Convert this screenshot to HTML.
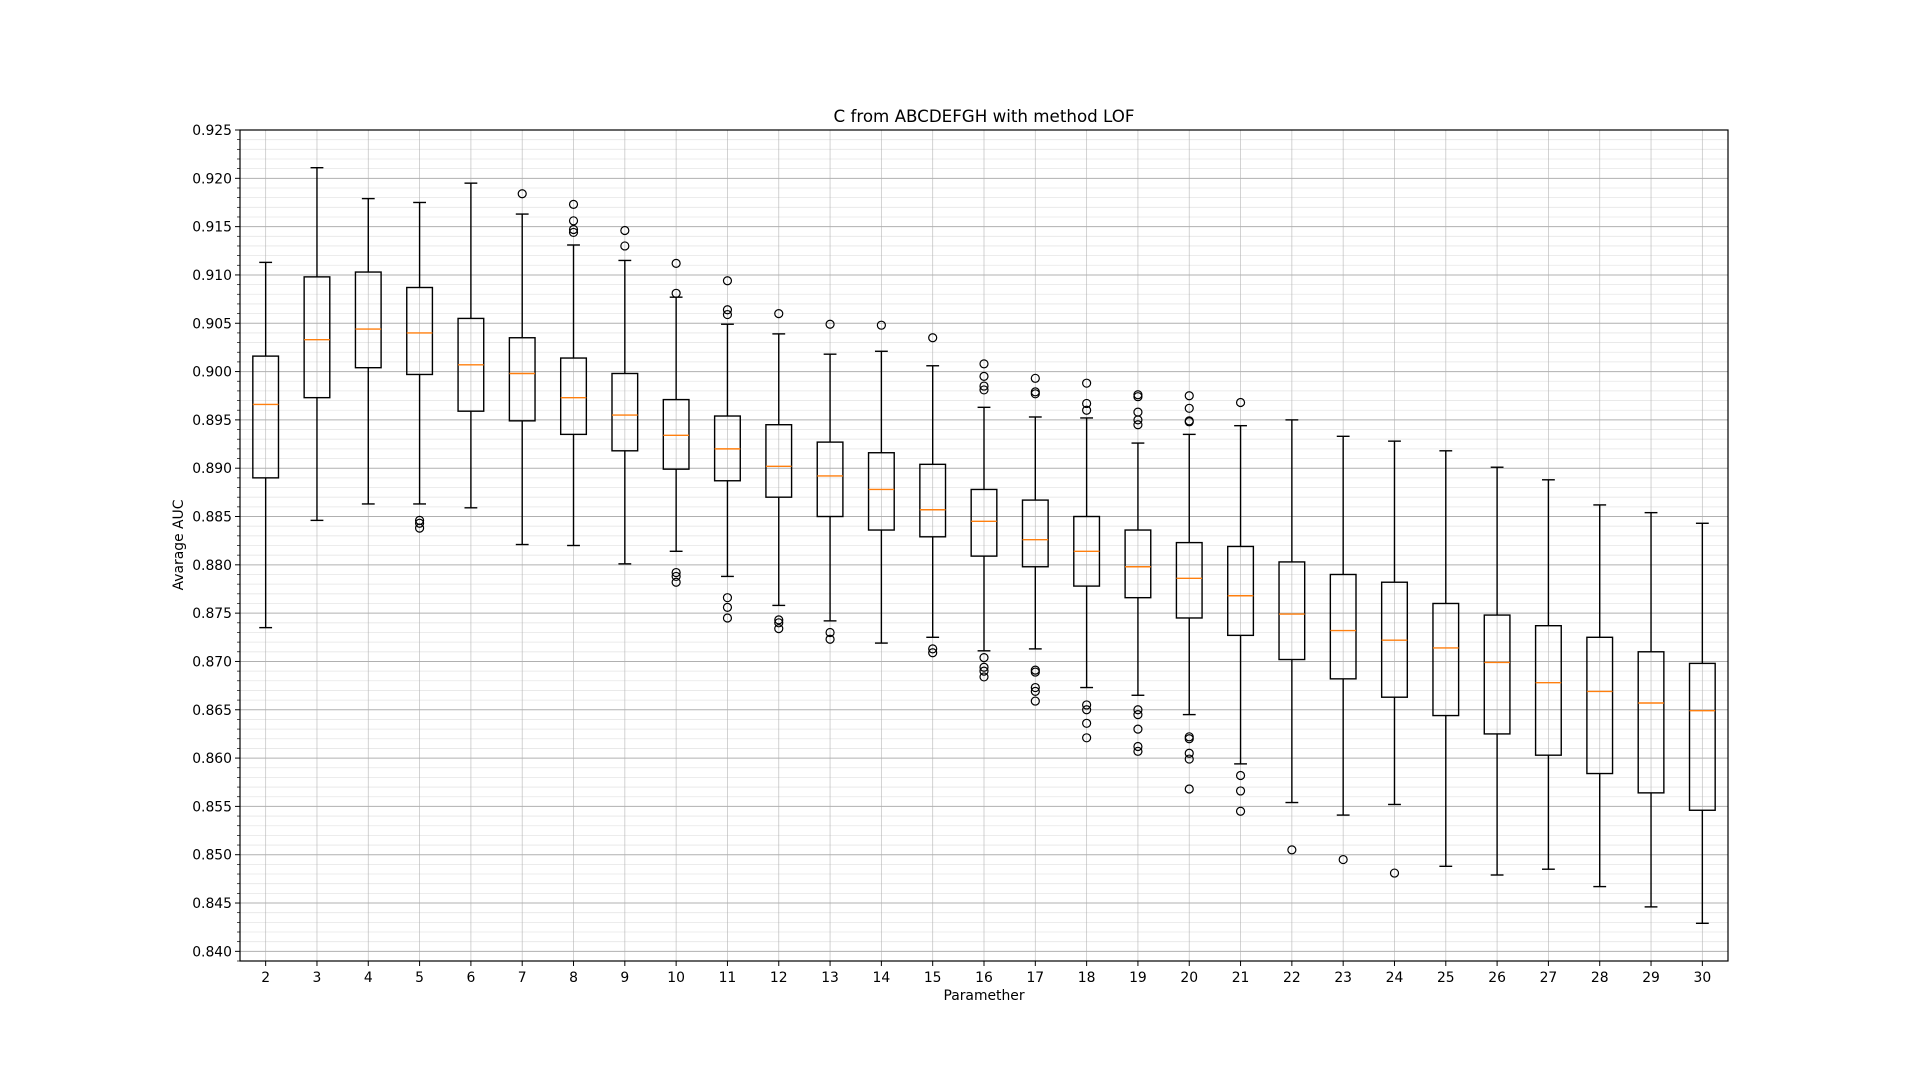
<!DOCTYPE html>
<html><head><meta charset="utf-8"><style>
html,body{margin:0;padding:0;background:#fff;}
svg{display:block;font-family:"DejaVu Sans","Liberation Sans",sans-serif;}
</style></head><body>
<svg id="chart" width="1920" height="1080" viewBox="0 0 1920 1080" xmlns="http://www.w3.org/2000/svg">
<rect x="0" y="0" width="1920" height="1080" fill="#fff"/>
<text x="984" y="122" font-size="16.7" text-anchor="middle">C from ABCDEFGH with method LOF</text>
<text x="984" y="1000" font-size="13.9" text-anchor="middle">Paramether</text>
<text x="0" y="0" font-size="13.9" text-anchor="middle" transform="translate(183,545) rotate(-90)">Avarage AUC</text>
<g id="grid"></g><g id="boxes"></g><g id="axes"></g>
</svg>
<script>
const categories=[2,3,4,5,6,7,8,9,10,11,12,13,14,15,16,17,18,19,20,21,22,23,24,25,26,27,28,29,30];
const whiskerHigh=[.9113,.9211,.9179,.9175,.9195,.9163,.9131,.9115,.9077,.9049,.9039,.9018,.9021,.9006,.8963,.8953,.8952,.8926,.8935,.8944,.8950,.8933,.8928,.8918,.8901,.8888,.8862,.8854,.8843];
const q3=[.9016,.9098,.9103,.9087,.9055,.9035,.9014,.8998,.8971,.8954,.8945,.8927,.8916,.8904,.8878,.8867,.8850,.8836,.8823,.8819,.8803,.8790,.8782,.8760,.8748,.8737,.8725,.8710,.8698];
const medians=[.8966,.9033,.9044,.9040,.9007,.8998,.8973,.8955,.8934,.8920,.8902,.8892,.8878,.8857,.8845,.8826,.8814,.8798,.8786,.8768,.8749,.8732,.8722,.8714,.8699,.8678,.8669,.8657,.8649];
const q1=[.8890,.8973,.9004,.8997,.8959,.8949,.8935,.8918,.8899,.8887,.8870,.8850,.8836,.8829,.8809,.8798,.8778,.8766,.8745,.8727,.8702,.8682,.8663,.8644,.8625,.8603,.8584,.8564,.8546];
const whiskerLow=[.8735,.8846,.8863,.8863,.8859,.8821,.8820,.8801,.8814,.8788,.8758,.8742,.8719,.8725,.8711,.8713,.8673,.8665,.8645,.8594,.8554,.8541,.8552,.8488,.8479,.8485,.8467,.8446,.8429];
const outliers=[[],[],[],[.8846,.8843,.8838],[],[.9184],[.9173,.9156,.9147,.9144],[.9146,.9130],[.9112,.9081,.8792,.8788,.8782],[.9094,.9064,.9059,.8766,.8756,.8745],[.9060,.8743,.8740,.8734],[.9049,.8730,.8723],[.9048],[.9035,.8713,.8709],[.9008,.8995,.8985,.8981,.8704,.8694,.8690,.8684],[.8993,.8979,.8977,.8691,.8689,.8673,.8669,.8659],[.8988,.8967,.8960,.8655,.8650,.8636,.8621],[.8976,.8974,.8958,.8950,.8945,.8650,.8645,.8630,.8612,.8607],[.8975,.8962,.8949,.8948,.8622,.8620,.8605,.8599,.8568],[.8968,.8582,.8566,.8545],[.8505],[.8495],[.8481],[],[],[],[],[],[]];
const yTickLabels=["0.840","0.845","0.850","0.855","0.860","0.865","0.870","0.875","0.880","0.885","0.890","0.895","0.900","0.905","0.910","0.915","0.920","0.925"];
const L=240,R=1728,T=130,B=961,YMIN=0.839,YMAX=0.925;
const NS='http://www.w3.org/2000/svg';
const sx=i=>L+(i+0.5)*(R-L)/categories.length;
const sy=v=>B-(v-YMIN)/(YMAX-YMIN)*(B-T);
function mk(par,tag,attrs){const e=document.createElementNS(NS,tag);for(const k in attrs)e.setAttribute(k,attrs[k]);par.appendChild(e);return e;}
const grid=document.getElementById('grid'),boxes=document.getElementById('boxes'),axes=document.getElementById('axes');
for(let k=0;k<=86;k++){const v=0.839+k*0.001;const y=sy(v);
 const major=Math.abs(Math.round(v*1000)%5)===0;
 const g=mk(grid,'line',{x1:L,x2:R,y1:y,y2:y,stroke:major?'#b0b0b0':'#e6e6e6','stroke-width':major?1:0.8});
 
 
 const t=mk(axes,'line',{x1:L-(major?5:3),x2:L,y1:y,y2:y,stroke:'#000','stroke-width':major?1:0.7});
 
 
}
yTickLabels.forEach(s=>{const y=sy(parseFloat(s));
 const t=mk(axes,'text',{x:L-8,y:y+5,'font-size':13.9,'text-anchor':'end'});t.textContent=s;
 
 
});
const bw=(R-L)/categories.length*0.5;
categories.forEach((c,i)=>{const x=sx(i);
 const gl=mk(grid,'line',{x1:x,x2:x,y1:T,y2:B,stroke:'#b0b0b0','stroke-width':0.8,opacity:0.7});
 
 
 const tk=mk(axes,'line',{x1:x,x2:x,y1:B,y2:B+5,stroke:'#000','stroke-width':1});
 
 
 const tl=mk(axes,'text',{x:x,y:B+21,'font-size':13.9,'text-anchor':'middle'});tl.textContent=c;
 
 
 const g=mk(boxes,'g',{});
 
 
 const st={stroke:'#000','stroke-width':1.4,fill:'none'};
 mk(g,'line',Object.assign({x1:x,x2:x,y1:sy(q3[i]),y2:sy(whiskerHigh[i])},st));
 mk(g,'line',Object.assign({x1:x,x2:x,y1:sy(q1[i]),y2:sy(whiskerLow[i])},st));
 mk(g,'line',Object.assign({x1:x-bw/4,x2:x+bw/4,y1:sy(whiskerHigh[i]),y2:sy(whiskerHigh[i])},st));
 mk(g,'line',Object.assign({x1:x-bw/4,x2:x+bw/4,y1:sy(whiskerLow[i]),y2:sy(whiskerLow[i])},st));
 mk(g,'rect',Object.assign({x:x-bw/2,y:sy(q3[i]),width:bw,height:sy(q1[i])-sy(q3[i])},st));
 mk(g,'line',{x1:x-bw/2,x2:x+bw/2,y1:sy(medians[i]),y2:sy(medians[i]),stroke:'#ff7f0e','stroke-width':1.4});
 outliers[i].forEach(v=>{const o=mk(g,'circle',{cx:x,cy:sy(v),r:4,fill:'none',stroke:'#000','stroke-width':1.2});
  
  });
});
const fr=mk(axes,'rect',{x:L,y:T,width:R-L,height:B-T,fill:'none',stroke:'#000','stroke-width':1.2});


</script>
</body></html>
